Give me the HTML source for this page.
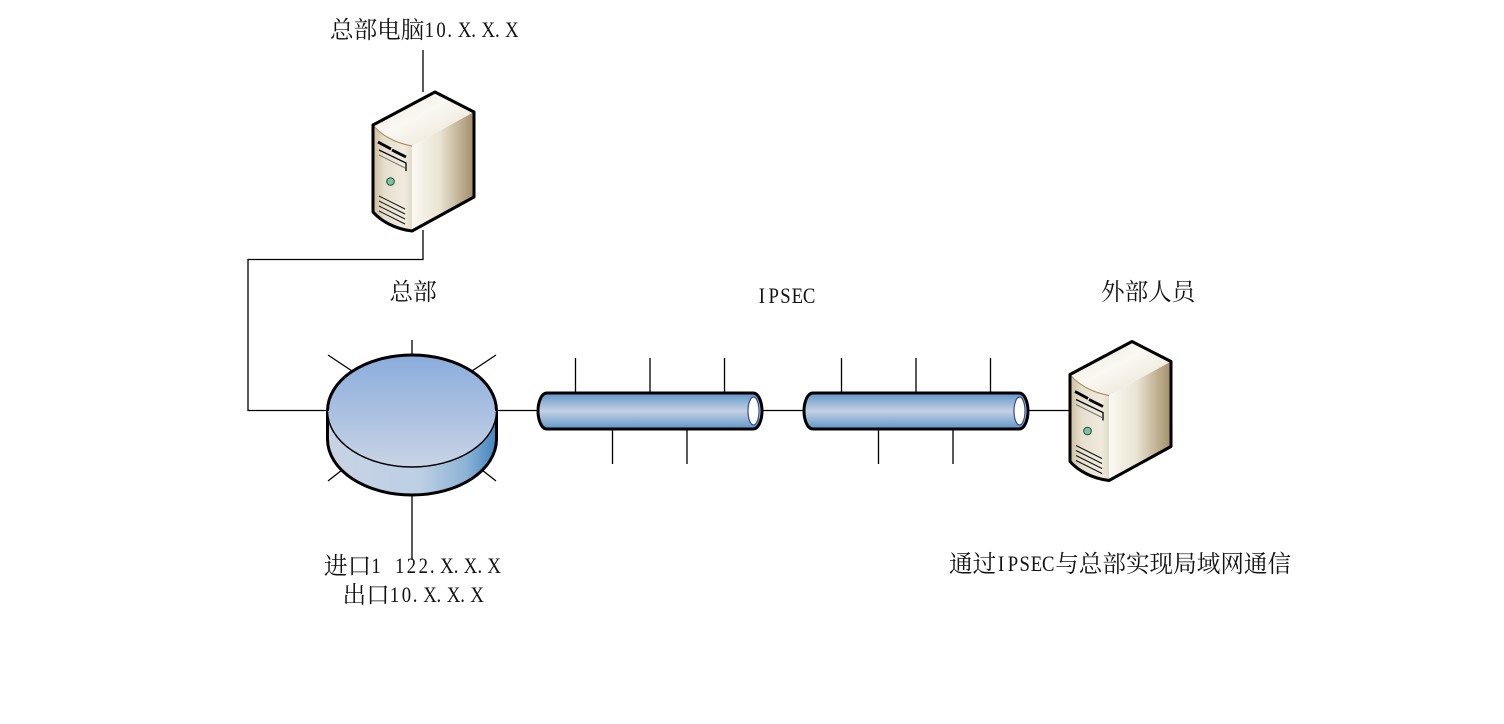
<!DOCTYPE html>
<html>
<head>
<meta charset="utf-8">
<style>
html,body{margin:0;padding:0;background:#fff;width:1504px;height:724px;overflow:hidden}
svg{display:block}
text{font-family:"Noto Serif CJK SC","Liberation Serif",serif;font-size:23.6px;fill:#111;white-space:pre}
text.l{font-family:"Liberation Serif",serif;font-size:22px;text-anchor:middle}
.w{stroke:#000;stroke-width:1.3;fill:none}
</style>
</head>
<body>
<svg width="1504" height="724" viewBox="0 0 1504 724" xmlns="http://www.w3.org/2000/svg">
<defs>
<linearGradient id="top" x1="0" y1="0" x2="1" y2="1"><stop offset="0" stop-color="#ece7db"/><stop offset=".45" stop-color="#faf8f2"/><stop offset="1" stop-color="#e6dfcf"/></linearGradient>
<linearGradient id="right" x1="0" y1="0" x2="1" y2="0"><stop offset="0" stop-color="#fbf9f4"/><stop offset=".45" stop-color="#eae3d3"/><stop offset="1" stop-color="#a38e67"/></linearGradient>
<linearGradient id="front" x1="0" y1="0" x2="1" y2="0"><stop offset="0" stop-color="#cdbd9d"/><stop offset=".3" stop-color="#e6dfce"/><stop offset=".8" stop-color="#f0ebdf"/><stop offset="1" stop-color="#e2dac8"/></linearGradient>
<linearGradient id="disktop" x1="0" y1="0" x2="0" y2="1"><stop offset="0" stop-color="#8aacdc"/><stop offset="1" stop-color="#c9d4e5"/></linearGradient>
<linearGradient id="diskside" x1="0" y1="0" x2="1" y2="0"><stop offset="0" stop-color="#c9d4e5"/><stop offset=".55" stop-color="#bccfe4"/><stop offset=".82" stop-color="#8db3d6"/><stop offset="1" stop-color="#4285bd"/></linearGradient>
<linearGradient id="tube" x1="0" y1="0" x2="0" y2="1"><stop offset="0" stop-color="#5f95c8"/><stop offset=".5" stop-color="#c5d1e3"/><stop offset="1" stop-color="#5f95c8"/></linearGradient>
<g id="server">
<path d="M373 125 L435 92 L474 112 L412 146 C395 143 381 135 373 125Z" fill="url(#top)"/>
<path d="M412 146 L474 112 L474 197 L412 231Z" fill="url(#right)"/>
<path d="M373 125 C381 135 395 143 412 146 L412 231 C395 229 381 221 373 212Z" fill="url(#front)"/>
<path d="M373 125 C381 135 395 143 412 146" fill="none" stroke="#a8875a" stroke-width="1"/>
<path d="M378 142 L391 149" stroke="#000" stroke-width="2.800" fill="none"/>
<path d="M392 150 L406 157" stroke="#000" stroke-width="2.800" fill="none"/>
<path d="M379 150 L406 163 L406 171" stroke="#000" stroke-width="1.300" fill="none"/>
<path d="M379 155 L405 168" stroke="#777" stroke-width="1" fill="none"/>
<circle cx="390.500" cy="181.500" r="3.800" fill="#7fc2a2" stroke="#1b4a3a" stroke-width="1"/>
<path d="M379 196 L405 209 M379 201 L405 214 M379 206 L405 219 M379 211 L405 224" stroke="#111" stroke-width="1" fill="none"/>
<path d="M373 125 L435 92 L474 112 L474 197 L412 231 C395 229 381 221 373 212Z" fill="none" stroke="#000" stroke-width="3" stroke-linejoin="round"/>
</g>
<g id="tubeg">
<path d="M547 393 L753 393 C759 393 762 403 762 411 C762 419 759 429 753 429 L547 429 C541 429 538 419 538 411 C538 403 541 393 547 393Z" fill="url(#tube)" stroke="#000" stroke-width="3"/>
<ellipse cx="753.500" cy="411" rx="5.500" ry="14" fill="#fff" stroke="#3b4a94" stroke-width="1.200"/>
<path class="w" d="M575.500 358V393M650 358V393M724.500 358V393M612.500 429V464M687 429V464"/>
</g>
</defs>

<path class="w" d="M423 50V92M423 230V259.500H248V410.500H328M497 410.500H538M762 410.500H804M1028 410.500H1070"/>
<path class="w" d="M412 340V355M328 355L352 371M496 355L472 371M328 481L342 470M496 481L482 470M412 495V560"/>

<path d="M327.500 411 V439 C327.500 470 365 495 412 495 C459 495 496.500 470 496.500 439 V411Z" fill="url(#diskside)" stroke="#000" stroke-width="3"/>
<ellipse cx="412" cy="411" rx="84.500" ry="56" fill="url(#disktop)" stroke="#000" stroke-width="1.500"/>
<path d="M327.500 411 C327.500 380 365 355 412 355 C459 355 496.500 380 496.500 411" fill="none" stroke="#000" stroke-width="3"/>

<use href="#server"/>
<use href="#server" transform="translate(697 249.500)"/>
<use href="#tubeg"/>
<use href="#tubeg" transform="translate(266 0)"/>

<text x="330" y="38">总部电脑</text>
<text class="l" transform="translate(423.400 37) scale(.85 1)" x="6.940 20.820 31 48.580 59 76.340 87 104.100">10.X.X.X</text>
<text x="389.500" y="300">总部</text>
<text class="l" transform="translate(756 303) scale(.85 1)" x="6.940 20.820 34.700 48.580 62.460">IPSEC</text>
<text x="1101" y="300">外部人员</text>
<text x="324" y="574">进口</text>
<text class="l" transform="translate(370.200 573) scale(.85 1)" x="6.940 20.820 34.700 48.580 62.460 73 90.220 101 117.980 129 145.740">1 122.X.X.X</text>
<text x="342.500" y="603">出口</text>
<text class="l" transform="translate(388.700 602) scale(.85 1)" x="6.940 20.820 31 48.580 59 76.340 87 104.100">10.X.X.X</text>
<text x="949" y="572">通过</text>
<text class="l" transform="translate(995.200 571) scale(.85 1)" x="6.940 20.820 34.700 48.580 62.460">IPSEC</text>
<text x="1055.200" y="572">与总部实现局域网通信</text>
</svg>
</body>
</html>
